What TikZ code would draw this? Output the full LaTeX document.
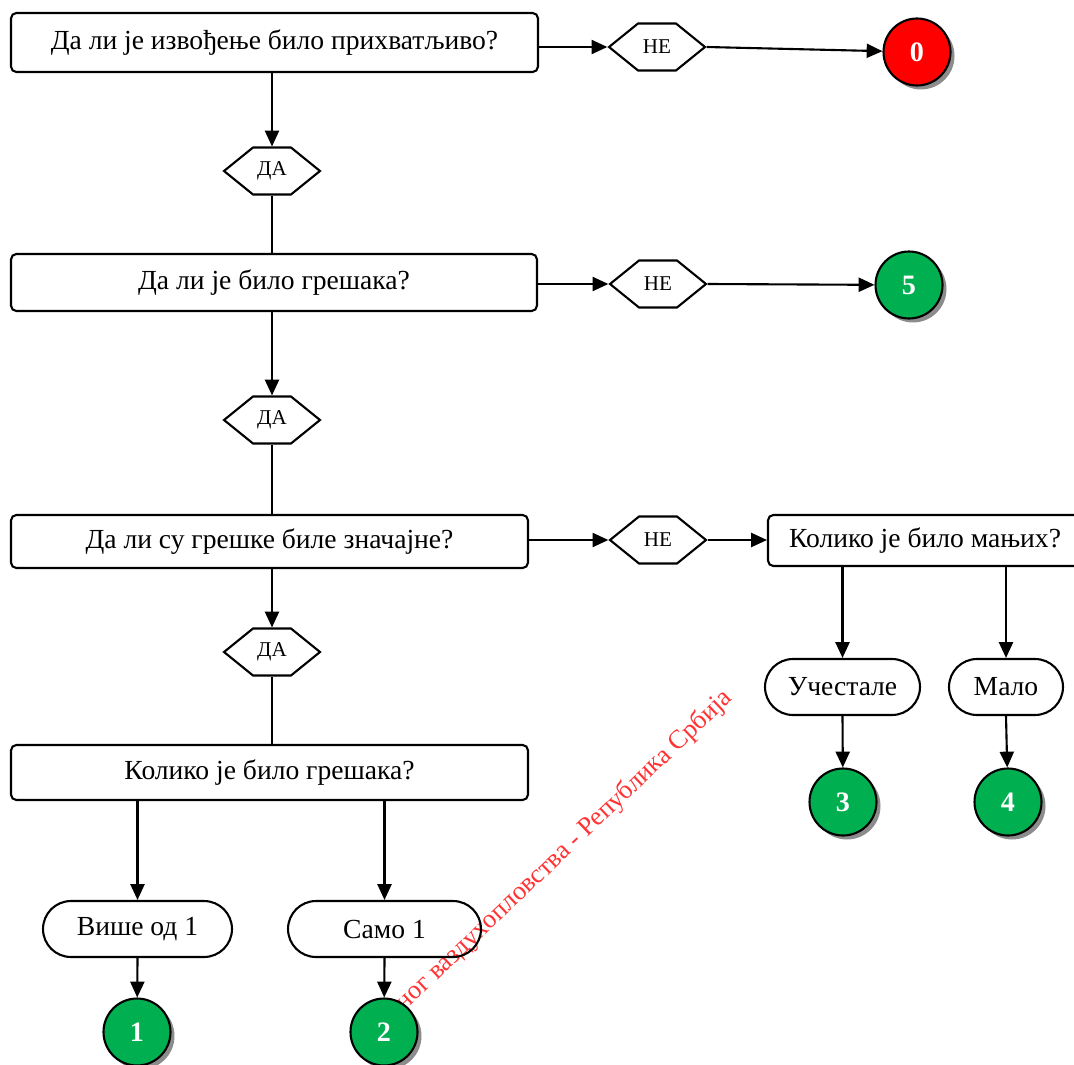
\documentclass[tikz,border=0pt]{standalone}
\usepackage{fontspec}
\setmainfont{Liberation Serif}
\usetikzlibrary{arrows.meta,shapes.symbols,shapes.misc,shadows}
\definecolor{okgreen}{HTML}{00B050}
\begin{document}
\begin{tikzpicture}[x=0.02cm,y=-0.02cm,>={Triangle[length=9pt,width=8pt]},line width=1.2pt,
  question/.style={draw,rounded corners=3pt,inner sep=0pt,font=\fontsize{15.7}{18}\selectfont},
  answer/.style={draw,signal,signal to=west and east,signal pointer angle=78,
    minimum width=1.92cm,minimum height=0.94cm,inner sep=0pt,font=\fontsize{12}{14}\selectfont},
  outcome/.style={draw,rounded rectangle,minimum height=1.12cm,inner sep=0pt,
    font=\fontsize{15.7}{18}\selectfont},
  grade/.style={draw,circle,minimum size=1.34cm,inner sep=0pt,text=white,
    font=\fontsize{16}{18}\selectfont\bfseries,
    drop shadow={shadow xshift=0.08cm,shadow yshift=-0.08cm,fill=black!45,opacity=1}}]
  \useasboundingbox (0,0) rectangle (1074,1064);
  % watermark
  \node[anchor=base west,rotate=43.5,inner sep=0pt,text=red!80,font=\fontsize{15}{17}\selectfont]
    (mark) at (404,1012) {ног ваздухопловства - Република Србија};
  % questions
  \node[question,minimum width=10.54cm,minimum height=1.18cm] (q1) at (274.5,42.5) {Да ли је извођење било прихватљиво?};
  \node[question,minimum width=10.52cm,minimum height=1.14cm] (q2) at (274,282.5) {Да ли је било грешака?};
  \node[question,minimum width=10.34cm,minimum height=1.06cm] (q3) at (269.5,541.5) {Да ли су грешке биле значајне?};
  \node[question,minimum width=6.28cm,minimum height=1.02cm] (q4) at (925,540.5) {Колико је било мањих?};
  \node[question,minimum width=10.34cm,minimum height=1.10cm] (q5) at (269.5,772.5) {Колико је било грешака?};
  % yes / no
  \node[answer] (ne1) at (657,47) {НЕ};
  \node[answer] (ne2) at (658,284) {НЕ};
  \node[answer] (ne3) at (658,540) {НЕ};
  \node[answer] (da1) at (272,171) {ДА};
  \node[answer] (da2) at (272,420) {ДА};
  \node[answer] (da3) at (272,652) {ДА};
  % counts
  \node[outcome,minimum width=3.78cm] (t1) at (137.5,929) {Више од 1};
  \node[outcome,minimum width=3.86cm] (t2) at (384.5,929) {Само 1};
  \node[outcome,minimum width=3.10cm] (t3) at (842.5,687) {Учестале};
  \node[outcome,minimum width=2.28cm] (t4) at (1006,687) {Мало};
  % grades
  \node[grade,fill=red] (g0) at (917,52) {0};
  \node[grade,fill=okgreen] (g5) at (909,285) {5};
  \node[grade,fill=okgreen] (g3) at (843,802) {3};
  \node[grade,fill=okgreen] (g4) at (1008,802) {4};
  \node[grade,fill=okgreen] (g1) at (137,1032) {1};
  \node[grade,fill=okgreen] (g2) at (384,1032) {2};
  % arrows to the right
  \draw[->] (q1.east |- ne1) -- (ne1.west);
  \draw[->] (ne1.east) -- (g0);
  \draw[->] (q2.east |- ne2) -- (ne2.west);
  \draw[->] (ne2.east) -- (g5);
  \draw[->] (q3.east |- ne3) -- (ne3.west);
  \draw[->] (ne3.east) -- (q4.west |- ne3);
  % arrows down
  \draw[->] (da1 |- q1.south) -- (da1.north);
  \draw (da1.south) -- (da1 |- q2.north);
  \draw[->] (da2 |- q2.south) -- (da2.north);
  \draw (da2.south) -- (da2 |- q3.north);
  \draw[->] (da3 |- q3.south) -- (da3.north);
  \draw (da3.south) -- (da3 |- q5.north);
  \draw[->] (t1 |- q5.south) -- (t1.north);
  \draw[->] (t2 |- q5.south) -- (t2.north);
  \draw[->] (t3 |- q4.south) -- (t3.north);
  \draw[->] (t4 |- q4.south) -- (t4.north);
  \draw[->] (t1.south) -- (g1);
  \draw[->] (t2.south) -- (g2);
  \draw[->] (t3.south) -- (g3);
  \draw[->] (t4.south) -- (g4);
\end{tikzpicture}
\end{document}
